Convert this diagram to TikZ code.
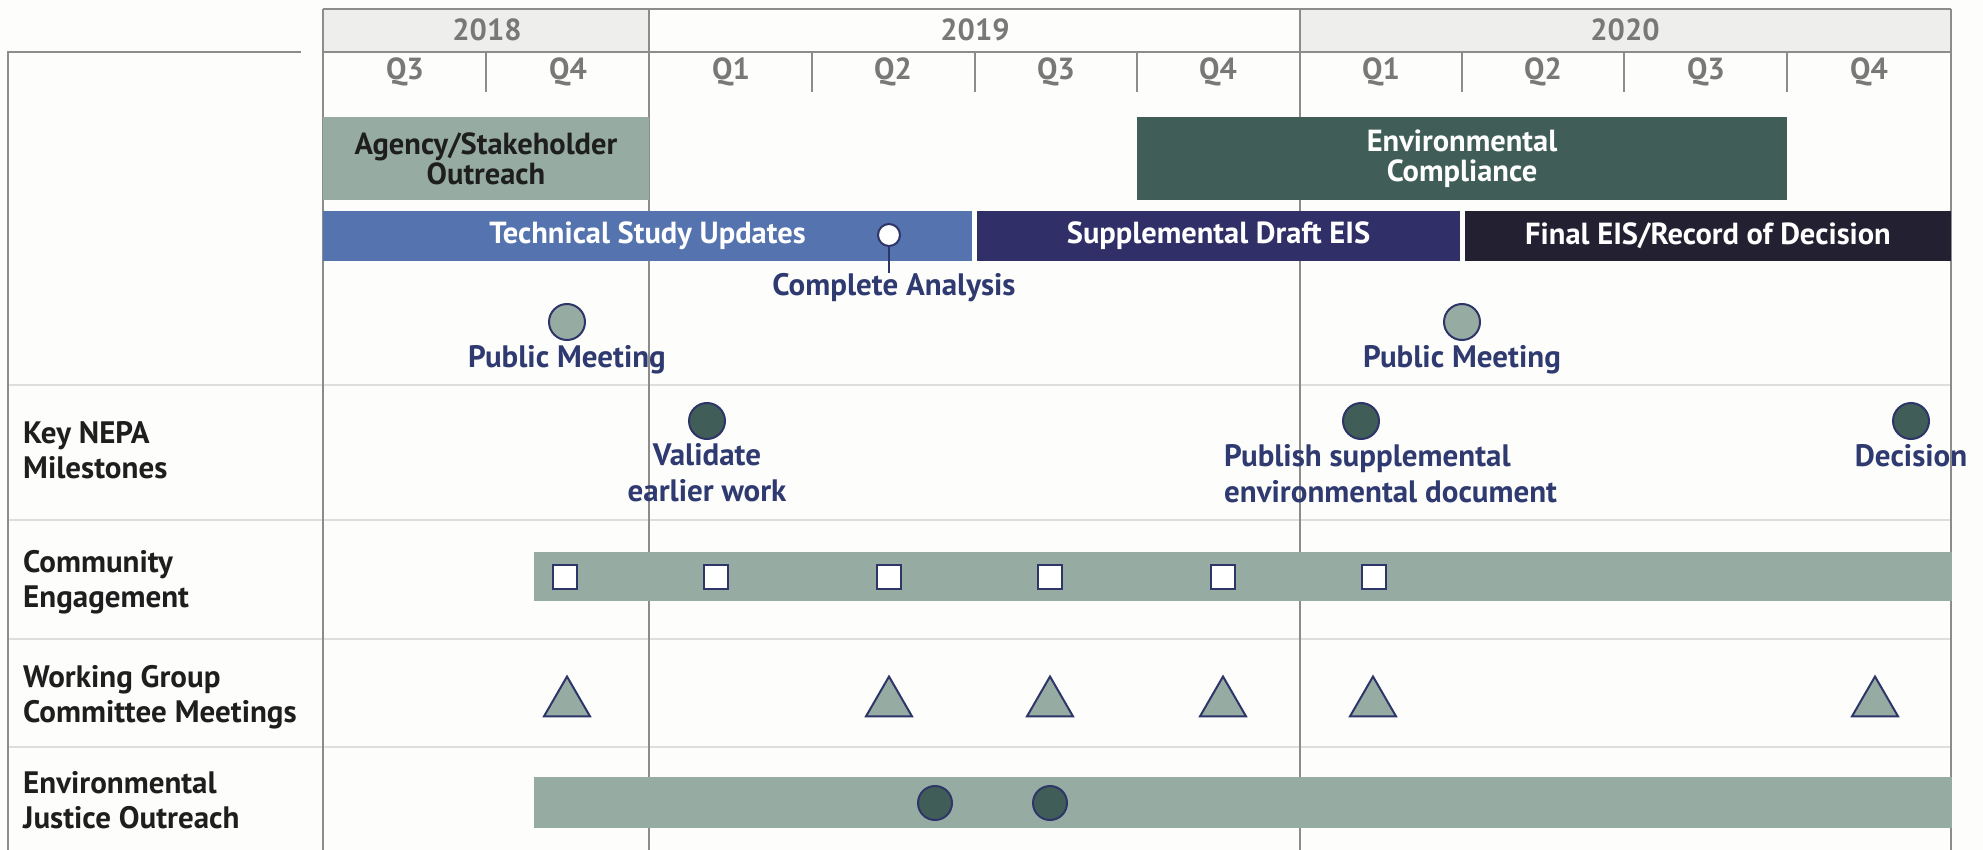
\documentclass[tikz,border=0pt]{standalone}
\usepackage{fontspec}
\setmainfont{PT Sans}
\usetikzlibrary{shapes.geometric}

\definecolor{paper}{HTML}{FDFDFB}
\definecolor{sage}{HTML}{96ABA2}
\definecolor{pine}{HTML}{405E57}
\definecolor{studyblue}{HTML}{5574AF}
\definecolor{draftpurple}{HTML}{302F68}
\definecolor{finalink}{HTML}{232131}
\definecolor{navy}{HTML}{2E3568}
\definecolor{headgray}{HTML}{EEEEEC}
\definecolor{linegray}{HTML}{8C8C8C}
\definecolor{rulegray}{HTML}{DEDEDE}
\definecolor{textgray}{HTML}{787878}
\definecolor{mstext}{HTML}{2F3A70}
\definecolor{ink}{HTML}{1E1E1E}

\newcommand{\hdrfont}{\bfseries\fontsize{30.5}{30}\selectfont}
\newcommand{\lblfont}{\bfseries\fontsize{31}{35}\selectfont}
\newcommand{\msfont}{\bfseries\fontsize{31}{36}\selectfont}

\tikzset{
  rule/.style={linegray, line width=2pt},
  rowsep/.style={rulegray, line width=2.5pt},
  yearlbl/.style={anchor=base, text=textgray, font=\hdrfont, inner sep=0pt},
  bar/.style={inner sep=0pt, align=center, font=\hdrfont, text=white},
  rowlbl/.style={anchor=base west, align=left, font=\lblfont, text=ink, inner sep=0pt},
  mslbl/.style={anchor=base, align=center, font=\msfont, text=mstext, inner sep=0pt},
  milestone/.style={circle, draw=navy, line width=2pt, fill=pine, minimum size=36pt, inner sep=0pt},
  meeting/.style={milestone, fill=sage},
  workshop/.style={draw=navy, line width=1.5pt, fill=white, minimum size=24pt, inner sep=0pt},
  committee/.style={regular polygon, regular polygon sides=3, draw=navy, line width=2pt,
    fill=sage, minimum size=53pt, inner sep=0pt},
  outreachdot/.style={milestone, minimum size=34pt}
}

\begin{document}
\begin{tikzpicture}[x=1pt, y=-1pt]
    \fill[paper] (0,0) rectangle (1983,850);
    \useasboundingbox (0,0) rectangle (1983,850);

    % header and grid
    \fill[headgray] (323,9) rectangle (649,52);
    \fill[headgray] (1300,9) rectangle (1951,52);
    \foreach \y in {385,520,639,747}
        \draw[rowsep] (8,\y) -- (1951,\y);
    \draw[rule] (323,9) -- (1951,9);
    \draw[rule] (323,52) -- (1951,52);
    \draw[rule] (301,52) -- (8,52) -- (8,850);
    \foreach \x in {323,649,1300,1951}
        \draw[rule] (\x,9) -- (\x,850);
    \foreach \x in {486,812,975,1137,1462,1624,1787}
        \draw[rule] (\x,52) -- (\x,92);

    \node[yearlbl] (y2018) at (487,41) {2018};
    \node[yearlbl] (y2019) at (975,41) {2019};
    \node[yearlbl] (y2020) at (1625,41) {2020};
    \foreach \q/\x [count=\i] in {Q3/405,Q4/568,Q1/731,Q2/893,Q3/1056,Q4/1218,Q1/1381,Q2/1543,Q3/1706,Q4/1869}
        \node[yearlbl] (q\i) at (\x,80) {\q};

    % phases
    \node[bar, fill=sage, text=ink, minimum width=326pt, minimum height=83pt] (outreach) at (486,158.5) {Agency/Stakeholder\\Outreach};
    \node[bar, fill=pine, minimum width=650pt, minimum height=83pt] (compliance) at (1462,158.5) {Environmental\\Compliance};
    \node[bar, fill=studyblue, minimum width=649pt, minimum height=50pt] (study) at (647.5,236) {Technical Study Updates};
    \node[bar, fill=draftpurple, minimum width=483pt, minimum height=50pt] (draft) at (1218.5,236) {Supplemental Draft EIS};
    \node[bar, fill=finalink, minimum width=486pt, minimum height=50pt] (final) at (1708,236) {Final EIS/Record of Decision};

    \node[milestone, fill=white, minimum size=22pt] (analysis) at (889,235) {};
    \node[mslbl] (analysislbl) at (894,295) {Complete Analysis};
    \draw[navy, line width=2pt] (analysis.south) -- (analysis.south |- analysislbl.north);

    \node[meeting] (meet1) at (567,322) {};
    \node[mslbl] (meet1lbl) at (567,367) {Public Meeting};
    \node[meeting] (meet2) at (1462,322) {};
    \node[mslbl] (meet2lbl) at (1462,367) {Public Meeting};

    % rows
    \node[rowlbl] (nepa) at (23,478) {Key NEPA\\Milestones};
    \node[rowlbl] (community) at (23,607) {Community\\Engagement};
    \node[rowlbl] (working) at (23,722) {Working Group\\Committee Meetings};
    \node[rowlbl] (justice) at (23,828) {Environmental\\Justice Outreach};

    \node[milestone] (validate) at (707,421) {};
    \node[mslbl] (validatelbl) at (707,501) {Validate\\earlier work};
    \node[milestone] (publish) at (1361,421) {};
    \node[mslbl, anchor=base west, align=left] (publishlbl) at (1224,502) {Publish supplemental\\environmental document};
    \node[milestone] (decision) at (1911,421) {};
    \node[mslbl] (decisionlbl) at (1911,466) {Decision};

    \node[bar, fill=sage, minimum width=1418pt, minimum height=49pt] (engagebar) at (1243,576.5) {};
    \foreach \x [count=\i] in {565,716,889,1050,1223,1374}
        \node[workshop] (ws\i) at (\x,577) {};

    \foreach \x [count=\i] in {567,889,1050,1223,1373,1875}
        \node[committee] (wg\i) at (\x,703) {};

    \node[bar, fill=sage, minimum width=1418pt, minimum height=51pt] (ejbar) at (1243,802.5) {};
    \node[outreachdot] (ej1) at (935,803) {};
    \node[outreachdot] (ej2) at (1050,803) {};
\end{tikzpicture}
\end{document}
